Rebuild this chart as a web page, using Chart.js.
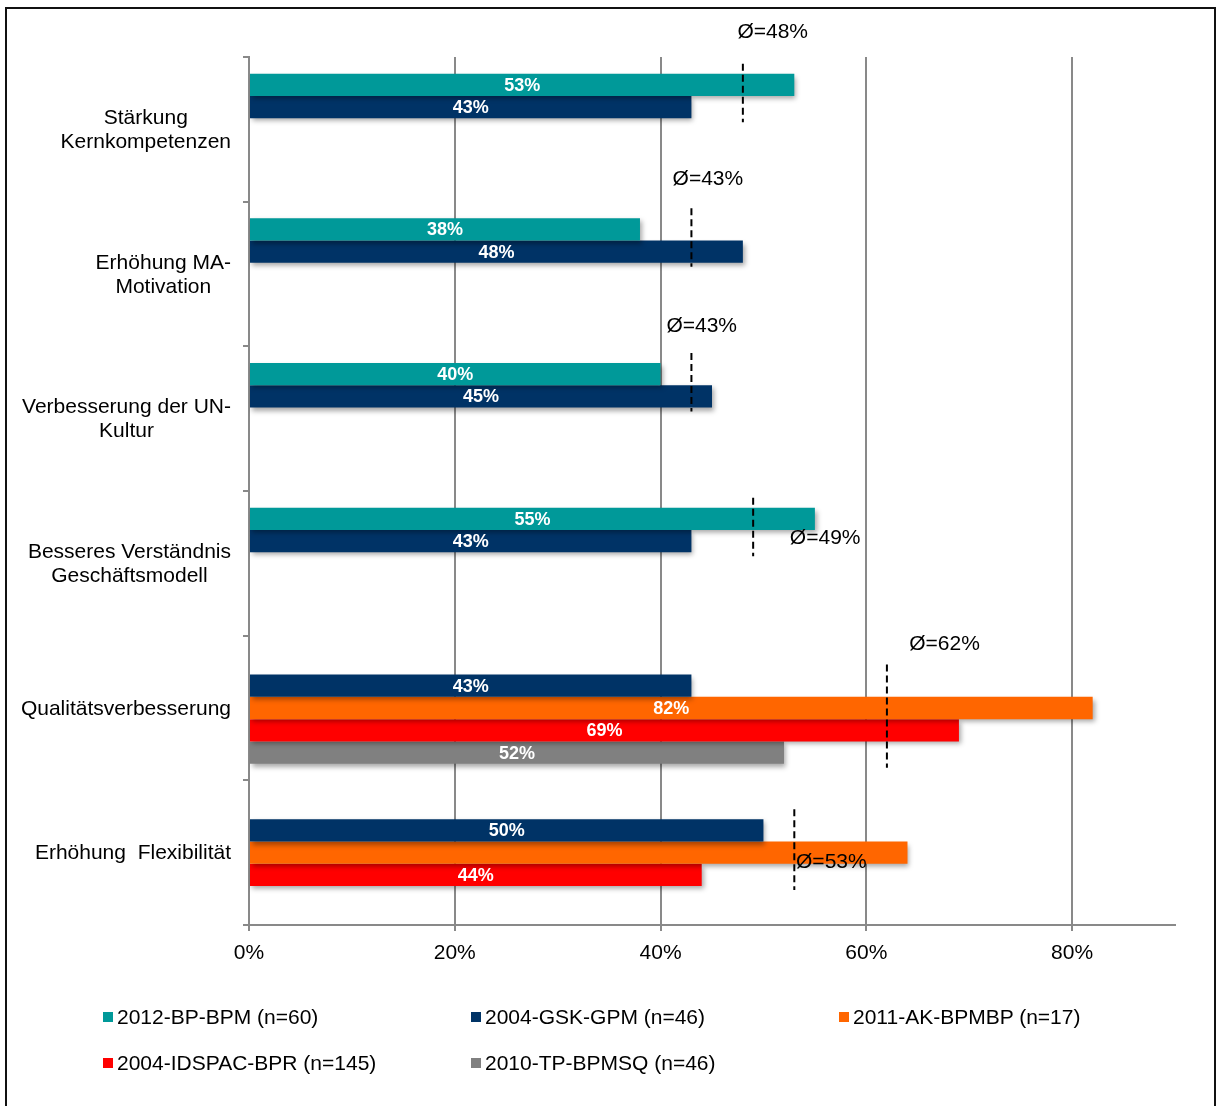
<!DOCTYPE html>
<html>
<head>
<meta charset="utf-8">
<script src="https://cdn.jsdelivr.net/npm/chart.js@4.4.1/dist/chart.umd.min.js"></script>
<style>
  body { margin: 0; background: #fff; font-family: "Liberation Sans", Arial, sans-serif; }
  #wrap { position: relative; width: 1216px; height: 1106px; overflow: hidden; }
  #frame { position: absolute; left: 5px; top: 7px; width: 1207px; height: 1110px; border: 2px solid #111; pointer-events: none; }
  #plots { position: absolute; left: 0; top: 0; }
  #legend { position: absolute; left: 103px; top: 1004px; display: grid; grid-template-columns: 368px 368px 368px; row-gap: 20px; font-size: 21px; color: #000; }
  #legend div { display: flex; align-items: center; height: 26px; white-space: nowrap; }
  #legend span { display: inline-block; width: 10px; height: 10px; margin-right: 4px; }
</style>
</head>
<body>
<div id="wrap">
  <canvas id="plots" width="1216" height="1106"></canvas>
  <div id="legend"></div>
  <div id="frame"></div>
</div>
<script>
// Kategorien (Zeilenumbrüche wie in der Achse)
var categories = [
  ["Stärkung", "Kernkompetenzen"],
  ["Erhöhung MA-", "Motivation"],
  ["Verbesserung der UN-", "Kultur"],
  ["Besseres Verständnis", "Geschäftsmodell"],
  ["Qualitätsverbesserung"],
  ["Erhöhung  Flexibilität"]
];

// Studien / Serien
var seriesNames = ["2012-BP-BPM (n=60)", "2004-GSK-GPM (n=46)", "2011-AK-BPMBP (n=17)", "2004-IDSPAC-BPR (n=145)", "2010-TP-BPMSQ (n=46)"];
var bp2012 = [53, 38, 40, 55, null, null];
var gsk2004 = [43, 48, 45, 43, 43, 50];
var ak2011 = [null, null, null, null, 82, 64];
var idspac2004 = [null, null, null, null, 69, 44];
var tp2010 = [null, null, null, null, 52, null];

// Durchschnitt je Kategorie
var averages = [48, 43, 43, 49, 62, 53];

var xTicks = [0, 20, 40, 60, 80];

// Farben
var colors = ["#009999", "#003366", "#FF6600", "#FF0000", "#808080"];

// Lage der Ø-Beschriftung: [x in %, Abstand zur Kategorie-Oberkante in px]
var avgLabelAt = [[50.9, -25], [44.6, -22], [44.0, -20], [56.0, 47], [67.6, 9], [56.6, 82]];

var seriesValues = [bp2012, gsk2004, ak2011, idspac2004, tp2010];
// Balken ohne Wertbeschriftung (Serie, Kategorie)
var noLabel = [[2, 5]];

var datasets = seriesValues.map(function (vals, i) {
  return { label: seriesNames[i], data: vals, backgroundColor: colors[i], borderWidth: 0 };
});

// Legende unten als Raster
var legend = document.getElementById("legend");
seriesNames.forEach(function (name, i) {
  var d = document.createElement("div");
  d.innerHTML = '<span style="background:' + colors[i] + '"></span>' + name;
  legend.appendChild(d);
});

var FONT = '"Liberation Sans", Arial, sans-serif';

// Schatten unter den Balken
var barShadow = {
  id: "barShadow",
  beforeDatasetsDraw: function (chart) {
    var ctx = chart.ctx;
    ctx.save();
    ctx.shadowColor = "rgba(0,0,0,0.35)";
    ctx.shadowBlur = 5;
    ctx.shadowOffsetX = 2;
    ctx.shadowOffsetY = 3;
  },
  afterDatasetsDraw: function (chart) {
    chart.ctx.restore();
  }
};

// Werte in den Balken, Ø-Linien, Kategorienamen
var extras = {
  id: "extras",
  afterDraw: function (chart) {
    var ctx = chart.ctx;
    var x = chart.scales.x, y = chart.scales.y;

    // Wertbeschriftung
    ctx.save();
    ctx.font = "bold 18px " + FONT;
    ctx.fillStyle = "#fff";
    ctx.textAlign = "center";
    ctx.textBaseline = "middle";
    chart.data.datasets.forEach(function (ds, di) {
      chart.getDatasetMeta(di).data.forEach(function (bar, ci) {
        var v = ds.data[ci];
        if (v === null) return;
        if (noLabel.some(function (p) { return p[0] === di && p[1] === ci; })) return;
        ctx.fillText(v + "%", (bar.base + bar.x) / 2, bar.y + 1);
      });
    });
    ctx.restore();

    // Ø-Linien
    var band = y.getPixelForValue(1) - y.getPixelForValue(0);
    averages.forEach(function (avg, ci) {
      var top = null, bottom = null;
      chart.data.datasets.forEach(function (ds, di) {
        if (ds.data[ci] === null) return;
        var b = chart.getDatasetMeta(di).data[ci];
        var t = b.y - b.height / 2, bt = b.y + b.height / 2;
        if (top === null || t < top) top = t;
        if (bottom === null || bt > bottom) bottom = bt;
      });
      var px = x.getPixelForValue(avg);
      ctx.save();
      ctx.strokeStyle = "#000";
      ctx.lineWidth = 2;
      ctx.setLineDash([7, 4]);
      ctx.beginPath();
      ctx.moveTo(px, top - 10);
      ctx.lineTo(px, bottom + 4);
      ctx.stroke();
      ctx.restore();

      var bandTop = y.getPixelForValue(ci) - band / 2;
      ctx.save();
      ctx.font = "21px " + FONT;
      ctx.fillStyle = "#000";
      ctx.textAlign = "center";
      ctx.textBaseline = "middle";
      ctx.fillText("Ø=" + avg + "%", x.getPixelForValue(avgLabelAt[ci][0]), bandTop + avgLabelAt[ci][1]);
      ctx.restore();
    });

    // Kategorienamen links, zentriert untereinander
    ctx.save();
    ctx.font = "21px " + FONT;
    ctx.fillStyle = "#000";
    ctx.textAlign = "center";
    ctx.textBaseline = "middle";
    categories.forEach(function (lines, ci) {
      var cy = y.getPixelForValue(ci) + 1;
      var w = Math.max.apply(null, lines.map(function (l) { return ctx.measureText(l).width; }));
      var cx = 231 - w / 2;
      var lh = 24;
      lines.forEach(function (l, li) {
        ctx.fillText(l, cx, cy + (li - (lines.length - 1) / 2) * lh);
      });
    });
    ctx.restore();
  }
};

new Chart(document.getElementById("plots"), {
  type: "bar",
  data: { labels: categories.map(function (c) { return c.join(" "); }), datasets: datasets },
  plugins: [barShadow, extras],
  options: {
    indexAxis: "y",
    responsive: false,
    animation: false,
    events: [],
    categoryPercentage: 0.77,
    barPercentage: 1.0,
    layout: { padding: { left: 0, right: 41, top: 57, bottom: 130 } },
    plugins: { legend: { display: false }, tooltip: { enabled: false } },
    scales: {
      x: {
        min: 0,
        max: 90,
        afterFit: function (s) { s.height = 51; },
        afterBuildTicks: function (s) { s.ticks = xTicks.map(function (v) { return { value: v }; }); },
        ticks: {
          callback: function (v) { return v + "%"; },
          font: { family: FONT, size: 21 },
          color: "#000",
          padding: 10
        },
        grid: { color: "#898989", lineWidth: 2, tickLength: 6 },
        border: { color: "#898989", width: 2 }
      },
      y: {
        offset: true,
        afterFit: function (s) { s.width = 249; },
        ticks: { display: false },
        grid: { drawOnChartArea: false, offset: true, color: "#898989", lineWidth: 2, tickLength: 6 },
        border: { color: "#898989", width: 2 }
      }
    }
  }
});
</script>
</body>
</html>
